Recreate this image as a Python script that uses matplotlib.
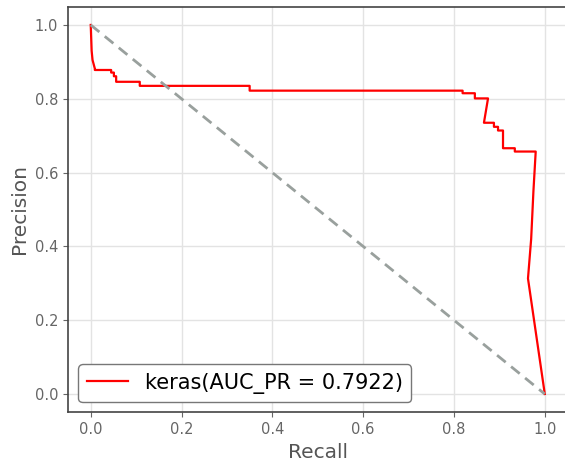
import matplotlib
matplotlib.use('Agg')
import matplotlib.pyplot as plt

# Precision-recall curve
Recall = [0.0, 0.002, 0.004, 0.009, 0.009, 0.045, 0.045, 0.051, 0.051, 0.056, 0.056,
          0.108, 0.108, 0.35, 0.35, 0.819, 0.819, 0.846, 0.846, 0.875, 0.866, 0.888,
          0.888, 0.897, 0.897, 0.908, 0.908, 0.934, 0.934, 0.980, 0.975, 0.970, 0.963, 1.0]
Precision = [1.0, 0.93, 0.905, 0.882, 0.878, 0.878, 0.871, 0.871, 0.861, 0.861, 0.846,
             0.846, 0.835, 0.835, 0.822, 0.822, 0.815, 0.815, 0.801, 0.801, 0.735, 0.735,
             0.724, 0.724, 0.714, 0.714, 0.666, 0.666, 0.657, 0.657, 0.55, 0.42, 0.313, 0.0]
Label = 'keras(AUC_PR = 0.7922)'
Diag_X = [0, 1]
Diag_Y = [1, 0]
Ticks = [0.0, 0.2, 0.4, 0.6, 0.8, 1.0]

Fig = plt.figure(figsize=(5.65, 4.65), dpi=100)
Ax = Fig.add_axes([0.1204, 0.113, 0.884, 0.873])

Ax.plot(Recall, Precision, color='red', linewidth=1.6, label=Label)
Ax.plot(Diag_X, Diag_Y, color='#99a09d', linewidth=2, linestyle=(0, (4, 2.5)))

Ax.set_xlim(-0.05, 1.05)
Ax.set_ylim(-0.05, 1.05)
Ax.set_xticks(Ticks)
Ax.set_yticks(Ticks)
Ax.set_xticklabels(['%.1f' % t for t in Ticks])
Ax.set_yticklabels(['%.1f' % t for t in Ticks])
Ax.tick_params(colors='#666666', labelsize=10.5, length=3.5, width=0.8)
Ax.grid(True, color='#e3e3e3', linewidth=1)
Ax.set_axisbelow(True)
for Side in ['left', 'bottom', 'top']:
    Ax.spines[Side].set_color('#444444')
    Ax.spines[Side].set_linewidth(1.2)
Ax.spines['right'].set_visible(False)

Ax.set_xlabel('Recall', fontsize=14.5, color='#555555')
Ax.set_ylabel('Precision', fontsize=14.5, color='#555555')
Leg = Ax.legend(loc='lower left', fontsize=15, edgecolor='#777777', framealpha=1,
                borderaxespad=0.5, handlelength=2)

Fig.savefig('out.png', dpi=100)
